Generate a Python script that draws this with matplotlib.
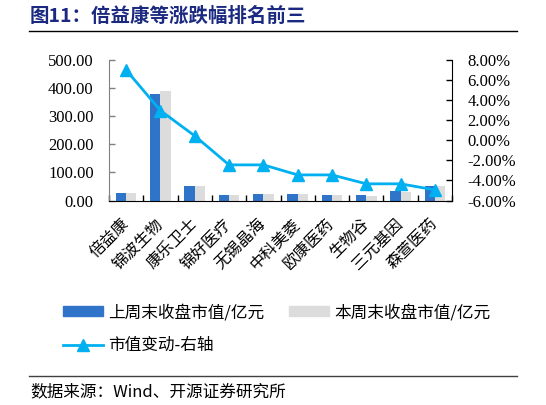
import matplotlib
matplotlib.use("Agg")
import matplotlib.pyplot as plt
import numpy as np
from matplotlib.lines import Line2D
from matplotlib.patches import Patch

categories = ["倍益康", "锦波生物", "康乐卫士", "锦好医疗", "无锡晶海", "中科美菱",
              "欧康医药", "生物谷", "三元基因", "森萱医药"]
last_week = [25, 380, 50, 19, 24, 24, 20, 18, 35, 50]
this_week = [27, 390, 50, 19, 24, 24, 20, 17, 31, 52]
change_pct = [7.0, 2.96, 0.44, -2.45, -2.45, -3.45, -3.45, -4.34, -4.34, -4.94]
left_ticks = [0, 100, 200, 300, 400, 500]
right_ticks = [-6, -4, -2, 0, 2, 4, 6, 8]

CJK = ["Noto Sans CJK SC", "DejaVu Sans"]
SERIF = ["Liberation Serif", "DejaVu Serif"]

BLUE = "#2F74C8"
GRAY = "#DCDCDC"
CYAN = "#00B0F0"

W, H = 546, 405
fig = plt.figure(figsize=(W / 100, H / 100), dpi=100)

ax_l, ax_r, ax_t, ax_b = 109, 452, 60, 200.5
ax = fig.add_axes([ax_l / W, 1 - ax_b / H, (ax_r - ax_l) / W, (ax_b - ax_t) / H])

n = len(categories)
x = np.arange(n)
bw = 0.30
ax.bar(x - bw / 2, last_week, width=bw, color=BLUE, zorder=2)
ax.bar(x + bw / 2, this_week, width=bw, color=GRAY, zorder=2)
ax.set_xlim(-0.5, n - 0.5)
ax.set_ylim(0, 500)
ax.set_yticks(left_ticks)
ax.set_yticklabels([f"{v:.2f}" for v in left_ticks], family=SERIF, fontsize=12)
ax.tick_params(axis="y", direction="in", length=4, width=1, color="#808080", pad=11)

ax.set_xticks(x)
ax.set_xticklabels(categories, family=CJK, fontsize=11.5, rotation=45,
                   ha="right", va="center", rotation_mode="anchor")
ax.tick_params(axis="x", which="major", length=0, pad=15)
ax.set_xticks(np.arange(-0.5, n, 1.0), minor=True)
ax.tick_params(axis="x", which="minor", direction="in", length=4, width=1, color="black")

for s in ["top", "right"]:
    ax.spines[s].set_visible(False)
ax.spines["left"].set_color("#808080")
ax.spines["bottom"].set_color("black")

ax2 = ax.twinx()
ax2.plot(x, change_pct, color=CYAN, lw=2.0, marker="^", markersize=9, zorder=5)
ax2.set_ylim(-6, 8)
ax2.set_yticks(right_ticks)
ax2.set_yticklabels([f"{v:.2f}%" for v in right_ticks], family=SERIF, fontsize=12)
ax2.tick_params(axis="y", direction="in", length=4, width=1, color="black", pad=11)
for s in ["top", "left", "bottom"]:
    ax2.spines[s].set_visible(False)
ax2.spines["right"].set_color("black")

# Title and rules
fig.text(30 / W, 1 - 16 / H, "图11：倍益康等涨跌幅排名前三", family=CJK, fontsize=14,
         fontweight="bold", color="#1B2A80", ha="left", va="center")
fig.add_artist(Line2D([29 / W, 517 / W], [1 - 31 / H, 1 - 31 / H], color="black", lw=1))
fig.add_artist(Line2D([29 / W, 517 / W], [1 - 376 / H, 1 - 376 / H], color="#404040", lw=1))
fig.text(30 / W, 1 - 392 / H, "数据来源：Wind、开源证券研究所", family=CJK, fontsize=12,
         color="black", ha="left", va="center")

handles = [Patch(color=BLUE), Line2D([], [], color=CYAN, lw=2, marker="^", markersize=8),
           Patch(color=GRAY)]
labels = ["上周末收盘市值/亿元", "市值变动-右轴", "本周末收盘市值/亿元"]
leg = fig.legend(handles, labels, ncol=2, loc="upper left",
                 bbox_to_anchor=(48 / W, 1 - 289 / H), frameon=False,
                 prop={"family": CJK, "size": 12}, handlelength=2.4, handleheight=0.5,
                 handletextpad=0.3, columnspacing=1.5, labelspacing=0.95)

fig.savefig("out.png", dpi=100)
